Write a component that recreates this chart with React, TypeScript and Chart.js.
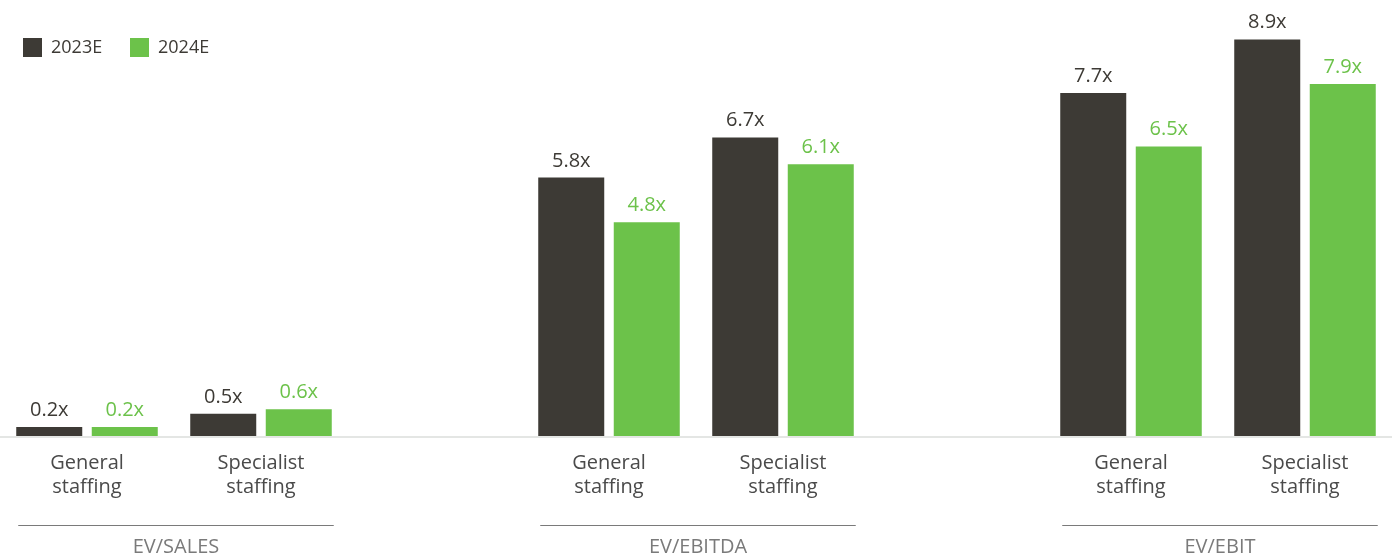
import React, { useEffect, useRef } from "react";
import { Chart, registerables } from "chart.js";

Chart.register(...registerables);

const categories: (string | string[])[] = [
  ["General", "staffing"],
  ["Specialist", "staffing"],
  "",
  ["General", "staffing"],
  ["Specialist", "staffing"],
  "",
  ["General", "staffing"],
  ["Specialist", "staffing"],
];
const seriesNames = ["2023E", "2024E"];
const values2023: (number | null)[] = [0.2, 0.5, null, 5.8, 6.7, null, 7.7, 8.9];
const values2024: (number | null)[] = [0.2, 0.6, null, 4.8, 6.1, null, 6.5, 7.9];
const groupNames = ["EV/SALES", "EV/EBITDA", "EV/EBIT"];
const groupStarts = [0, 3, 6];

const DARK = "#3d3a35";
const GREEN = "#6cc24a";
const FONT = "'Open Sans', sans-serif";

const overlayPlugin = {
  id: "overlay",
  afterDatasetsDraw(chart: any) {
    const ctx = chart.ctx;
    const area = chart.chartArea;
    ctx.save();
    // axis line
    ctx.strokeStyle = "#e4e6e4";
    ctx.lineWidth = 2;
    ctx.beginPath();
    ctx.moveTo(area.left, area.bottom + 1);
    ctx.lineTo(area.right, area.bottom + 1);
    ctx.stroke();

    // value labels
    ctx.font = `20px ${FONT}`;
    ctx.textAlign = "center";
    ctx.textBaseline = "alphabetic";
    chart.data.datasets.forEach((ds: any, di: number) => {
      const meta = chart.getDatasetMeta(di);
      ctx.fillStyle = di === 0 ? DARK : GREEN;
      meta.data.forEach((el: any, i: number) => {
        const v = ds.data[i];
        if (v === null || v === undefined) return;
        ctx.fillText(v.toFixed(1) + "x", el.x, el.y - 11);
      });
    });

    // group lines and names
    const m0 = chart.getDatasetMeta(0);
    const m1 = chart.getDatasetMeta(1);
    groupStarts.forEach((s, gi) => {
      const a = m0.data[s];
      const b = m1.data[s + 1];
      const x1 = a.x - a.width / 2 + 2;
      const x2 = b.x + b.width / 2 + 2;
      ctx.strokeStyle = "#7a7a7a";
      ctx.lineWidth = 1;
      ctx.beginPath();
      ctx.moveTo(x1, 525.5);
      ctx.lineTo(x2, 525.5);
      ctx.stroke();
      ctx.fillStyle = "#7a7a7a";
      ctx.font = `20px ${FONT}`;
      ctx.textBaseline = "middle";
      ctx.fillText(groupNames[gi], (x1 + x2) / 2, 547);
    });

    // legend
    const legendX = [23, 130];
    const colors = [DARK, GREEN];
    ctx.textAlign = "left";
    ctx.textBaseline = "middle";
    ctx.font = `18px ${FONT}`;
    seriesNames.forEach((n, i) => {
      ctx.fillStyle = colors[i];
      ctx.fillRect(legendX[i], 38, 19, 19);
      ctx.fillStyle = "#3d3a35";
      ctx.fillText(n, legendX[i] + 28, 48);
    });
    ctx.restore();
  },
};

export default function App() {
  const ref = useRef<HTMLCanvasElement | null>(null);
  useEffect(() => {
    if (!ref.current) return;
    const chart = new Chart(ref.current, {
      type: "bar",
      data: {
        labels: categories as any,
        datasets: [
          {
            label: seriesNames[0],
            data: values2023,
            backgroundColor: DARK,
            categoryPercentage: 0.868,
            barPercentage: 0.874,
          },
          {
            label: seriesNames[1],
            data: values2024,
            backgroundColor: GREEN,
            categoryPercentage: 0.868,
            barPercentage: 0.874,
          },
        ],
      },
      options: {
        animation: false,
        responsive: true,
        maintainAspectRatio: false,
        layout: { padding: { left: 0, right: 5, top: 35, bottom: 0 } },
        plugins: { legend: { display: false }, tooltip: { enabled: false } },
        scales: {
          x: {
            grid: { display: false },
            border: { display: false },
            ticks: {
              color: "#4a4a4a",
              font: { family: FONT, size: 20, lineHeight: 1.2 },
              padding: 7,
              maxRotation: 0,
              autoSkip: false,
            },
            afterFit(scale: any) {
              scale.height = 120;
            },
          },
          y: {
            display: false,
            min: 0,
            max: 9,
          },
        },
      },
      plugins: [overlayPlugin],
    });
    return () => chart.destroy();
  }, []);
  return (
    <div style={{ position: "fixed", left: 0, top: 0, width: 1397, height: 556, background: "#fff" }}>
      <canvas ref={ref} />
    </div>
  );
}
